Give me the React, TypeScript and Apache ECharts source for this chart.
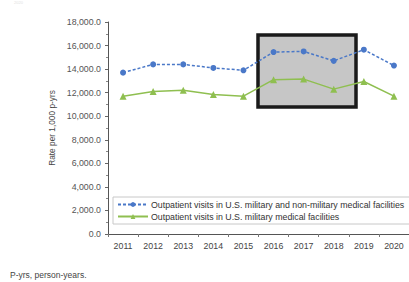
import React, { useEffect, useRef } from "react";
import * as echarts from "echarts";

const years = ["2011", "2012", "2013", "2014", "2015", "2016", "2017", "2018", "2019", "2020"];
const allFacilities = [13700, 14400, 14400, 14100, 13900, 15450, 15500, 14700, 15650, 14300];
const militaryFacilities = [11700, 12100, 12200, 11850, 11700, 13100, 13150, 12300, 12950, 11700];
const seriesNames = [
  "Outpatient visits in U.S. military and non-military medical facilities",
  "Outpatient visits in U.S. military medical facilities",
];
const yMin = 0;
const yMax = 18000;
const yInterval = 2000;

const fmt = (v: number) =>
  v.toLocaleString("en-US", { minimumFractionDigits: 1, maximumFractionDigits: 1 });

export default function App() {
  const ref = useRef<HTMLDivElement>(null);
  useEffect(() => {
    document.body.style.margin = "0";
    if (!ref.current) return;
    const chart = echarts.init(ref.current, null, { renderer: "svg" });
    const font = "Liberation Sans";
    chart.setOption({
      animation: false,
      backgroundColor: "#ffffff",
      textStyle: { fontFamily: font },
      grid: { left: 108, top: 22, width: 310, height: 212, containLabel: false },
      xAxis: {
        type: "category",
        data: years,
        boundaryGap: true,
        axisLine: { lineStyle: { color: "#555", width: 1 } },
        axisTick: { show: true, alignWithLabel: false, length: 3, lineStyle: { color: "#777" } },
        axisLabel: { color: "#444", fontSize: 8.8, margin: 7, fontFamily: font },
        splitLine: { show: false },
      },
      yAxis: {
        type: "value",
        min: yMin,
        max: yMax,
        interval: yInterval,
        name: "Rate per 1,000 p-yrs",
        nameLocation: "middle",
        nameGap: 52,
        nameTextStyle: { color: "#444", fontSize: 8.3, fontFamily: font },
        axisLine: { show: true, lineStyle: { color: "#555", width: 1 } },
        axisTick: { show: true, inside: false, length: 3, lineStyle: { color: "#666" } },
        minorTick: { show: true, splitNumber: 2, length: 2, lineStyle: { color: "#888" } },
        axisLabel: { color: "#555", fontSize: 8.8, margin: 7, formatter: (v: number) => fmt(v), fontFamily: font },
        splitLine: { show: false },
      },
      legend: {
        orient: "vertical",
        left: 113,
        top: 197,
        itemGap: 3,
        itemWidth: 30,
        itemHeight: 6,
        padding: [3, 60, 3, 4],
        borderColor: "#c8c8c8",
        borderWidth: 1,
        backgroundColor: "#ffffff",
        textStyle: { fontSize: 8.8, color: "#333", fontFamily: font, padding: [0, 0, 0, -2] },
        data: seriesNames,
      },
      graphic: [
        {
          type: "rect",
          z: 0,
          shape: { x: 258, y: 35, width: 98, height: 72 },
          style: { fill: "#c6c6c6", stroke: "#1a1a1a", lineWidth: 3.5 },
        },
        {
          type: "text",
          left: 10,
          top: 270,
          style: { text: "P-yrs, person-years.", fontSize: 8.5, fill: "#444", fontFamily: font },
        },
        {
          type: "text",
          left: 14,
          top: 0,
          style: { text: "2020", fontSize: 4, fill: "#e2e2e2", fontFamily: font },
        },
      ],
      series: [
        {
          name: seriesNames[0],
          type: "line",
          z: 5,
          data: allFacilities,
          symbol: "circle",
          symbolSize: 6,
          itemStyle: { color: "#4a78c8" },
          lineStyle: { color: "#4a78c8", width: 1.5, type: [3, 2] },
        },
        {
          name: seriesNames[1],
          type: "line",
          z: 5,
          data: militaryFacilities,
          symbol: "triangle",
          symbolSize: 7,
          itemStyle: { color: "#8fbf50" },
          lineStyle: { color: "#8fbf50", width: 1.5 },
        },
      ],
    });
    return () => chart.dispose();
  }, []);
  return <div ref={ref} style={{ width: 409, height: 282 }} />;
}
